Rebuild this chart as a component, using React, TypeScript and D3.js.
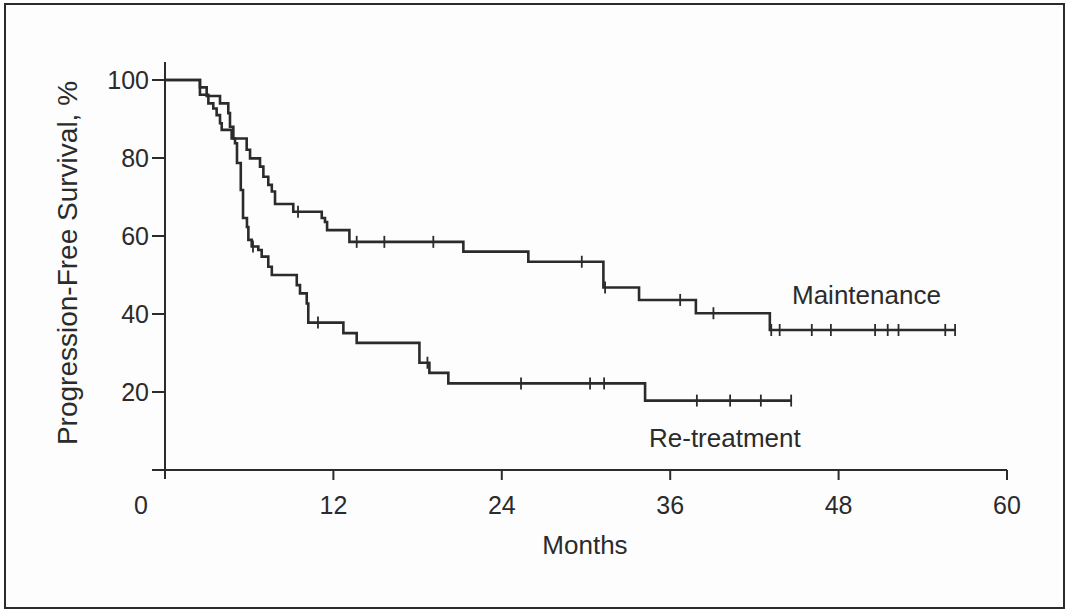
import React, { useEffect, useRef } from 'react';
import * as d3 from 'd3';

// Kaplan-Meier steps: month of drop and survival (%) after the drop
const maintTimes = [2.49, 2.97, 3.92, 4.51, 4.63, 4.87, 5.82, 6.06, 6.77, 7.01, 7.36, 7.61, 7.84, 9.14, 11.17, 11.4, 11.55, 13.14, 21.26, 25.89, 31.24, 33.78, 37.83, 43.1];
const maintValues = [98.1, 95.9, 94.0, 91.5, 88.0, 85.0, 82.1, 79.9, 77.8, 75.2, 73.1, 71.4, 68.2, 66.2, 64.6, 63.6, 61.5, 58.5, 56.0, 53.4, 46.8, 43.6, 40.2, 35.9];
const maintCensored = [9.48, 13.66, 15.63, 19.12, 29.7, 31.36, 36.71, 39.08, 43.2, 43.8, 46.09, 47.45, 50.6, 51.5, 52.27, 55.6, 56.3];

const retreatTimes = [2.49, 3.09, 3.44, 3.68, 3.92, 4.04, 4.75, 4.99, 5.13, 5.4, 5.56, 5.84, 5.94, 6.18, 6.65, 6.89, 7.36, 7.61, 9.39, 9.62, 10.1, 10.21, 12.71, 13.66, 18.13, 18.84, 20.19, 34.21];
const retreatValues = [96.2, 94.0, 92.7, 91.0, 88.9, 87.2, 85.0, 83.8, 78.7, 71.8, 64.6, 62.3, 59.0, 57.3, 56.4, 54.7, 52.1, 50.0, 47.4, 45.3, 42.7, 37.8, 35.1, 32.6, 27.5, 24.9, 22.2, 17.8];
const retreatCensored = [6.27, 10.9, 18.7, 25.37, 30.29, 31.29, 37.9, 40.27, 42.46, 44.62];

const xTicks = [12, 24, 36, 48, 60];
const yTicks = [20, 40, 60, 80, 100];

const INK = '#2b2b2b';
const FONT = '"Liberation Sans", Arial, Helvetica, sans-serif';

function stepPoints(times: number[], values: number[], censored: number[]): [number, number][] {
  const pts: [number, number][] = [[0, 100]];
  times.forEach((t, i) => pts.push([t, values[i]]));
  const end = Math.max(times[times.length - 1], censored[censored.length - 1]);
  pts.push([end, values[values.length - 1]]);
  return pts;
}

function valueAt(times: number[], values: number[], t: number) {
  let v = 100;
  times.forEach((tt, i) => { if (tt <= t) v = values[i]; });
  return v;
}

export default function App() {
  const svgRef = useRef<SVGSVGElement | null>(null);

  useEffect(() => {
    if (!svgRef.current) return;
    const svg = d3.select(svgRef.current);
    svg.selectAll('*').remove();

    const x = d3.scaleLinear().domain([0, 60]).range([165, 1007]);
    const y = d3.scaleLinear().domain([0, 100]).range([470, 80]);

    // outer frame
    svg.append('rect')
      .attr('x', 5).attr('y', 4).attr('width', 1059).attr('height', 604)
      .attr('fill', '#fdfdfd').attr('stroke', INK).attr('stroke-width', 2);

    // axes
    const axes = svg.append('g').attr('stroke', INK).attr('stroke-width', 2);
    axes.append('line').attr('x1', x(0)).attr('x2', x(0)).attr('y1', 62).attr('y2', 479);
    axes.append('line').attr('x1', 152).attr('x2', x(60)).attr('y1', y(0)).attr('y2', y(0));
    yTicks.forEach(t => {
      axes.append('line').attr('x1', 152).attr('x2', x(0)).attr('y1', y(t)).attr('y2', y(t));
    });
    xTicks.forEach(t => {
      axes.append('line').attr('x1', x(t)).attr('x2', x(t)).attr('y1', y(0)).attr('y2', y(0) + 10);
    });

    const text = svg.append('g').attr('font-family', FONT).attr('fill', INK);
    yTicks.forEach(t => {
      text.append('text').attr('x', 149).attr('y', y(t)).attr('dy', '0.36em')
        .attr('text-anchor', 'end').attr('font-size', 25).text(t);
    });
    text.append('text').attr('x', 141).attr('y', 505).attr('dy', '0.36em')
      .attr('text-anchor', 'middle').attr('font-size', 25).text('0');
    xTicks.forEach(t => {
      text.append('text').attr('x', x(t)).attr('y', 505).attr('dy', '0.36em')
        .attr('text-anchor', 'middle').attr('font-size', 25).text(t);
    });
    text.append('text').attr('x', 585).attr('y', 545).attr('dy', '0.36em')
      .attr('text-anchor', 'middle').attr('font-size', 26).text('Months');
    text.append('text')
      .attr('transform', 'translate(67, 263) rotate(-90)')
      .attr('dy', '0.36em').attr('text-anchor', 'middle').attr('font-size', 28)
      .text('Progression-Free Survival, %');
    text.append('text').attr('x', 792).attr('y', 295).attr('dy', '0.36em')
      .attr('font-size', 26).text('Maintenance');
    text.append('text').attr('x', 649).attr('y', 438).attr('dy', '0.36em')
      .attr('font-size', 26).text('Re-treatment');

    const line = d3.line<[number, number]>()
      .x(d => x(d[0])).y(d => y(d[1]))
      .curve(d3.curveStepAfter);

    const series = [
      { times: maintTimes, values: maintValues, censored: maintCensored },
      { times: retreatTimes, values: retreatValues, censored: retreatCensored },
    ];

    series.forEach(s => {
      svg.append('path')
        .attr('d', line(stepPoints(s.times, s.values, s.censored)))
        .attr('fill', 'none').attr('stroke', INK).attr('stroke-width', 2.6)
        .attr('stroke-linejoin', 'miter');
      svg.append('g').selectAll('line').data(s.censored).join('line')
        .attr('x1', d => x(d)).attr('x2', d => x(d))
        .attr('y1', d => y(valueAt(s.times, s.values, d)) - 6)
        .attr('y2', d => y(valueAt(s.times, s.values, d)) + 6)
        .attr('stroke', INK).attr('stroke-width', 1.8);
    });
  }, []);

  return (
    <svg ref={svgRef} width={1070} height={616}
      style={{ position: 'absolute', left: 0, top: 0, background: '#fff' }} />
  );
}
